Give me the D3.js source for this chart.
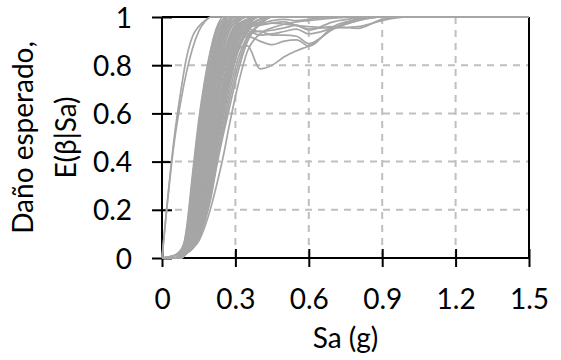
<!DOCTYPE html>
<html>
<head>
<meta charset="utf-8">
<script src="https://cdn.jsdelivr.net/npm/d3@7"></script>
<style>
  html, body { margin: 0; padding: 0; background: #fff; }
  svg { display: block; }
  text { font-family: Lato, "Open Sans", sans-serif; fill: #000; }
</style>
</head>
<body>
<svg id="chart" width="561" height="360"></svg>
<script>
// ---------------- data ----------------
const saGrid = [0, 0.05, 0.075, 0.1, 0.125, 0.15, 0.175, 0.2, 0.225, 0.25, 0.275, 0.3, 0.35, 0.4, 0.45, 0.5, 0.55, 0.6, 0.7, 0.8, 0.9, 1.0, 1.5];

const xTicks = [0, 0.3, 0.6, 0.9, 1.2, 1.5];
const xTickLabels = ["0", "0.3", "0.6", "0.9", "1.2", "1.5"];
const yTicks = [0, 0.2, 0.4, 0.6, 0.8, 1];
const yTickLabels = ["0", "0.2", "0.4", "0.6", "0.8", "1"];
const xGrid = [0.3, 0.6, 0.9, 1.2];
const yGrid = [0.2, 0.4, 0.6, 0.8];

const xTitle = "Sa (g)";
const yTitleLines = ["Daño esperado,", "E(β|Sa)"];

// curves rising early (start at the origin)
const outlierCurves = [
  [0, 0.50, 0.68, 0.83, 0.92, 0.96, 0.985, 1, 1, 1, 1, 1, 1, 1, 1, 1, 1, 1, 1, 1, 1, 1, 1],
  [0, 0.48, 0.64, 0.77, 0.87, 0.94, 0.98, 1, 1, 1, 1, 1, 1, 1, 1, 1, 1, 1, 1, 1, 1, 1, 1]
];

// main band of curves
const bandCurves = [
  [0, 0, 0.01, 0.12, 0.35, 0.57, 0.74, 0.87, 0.96, 1, 1, 1, 1, 1, 1, 1, 1, 1, 1, 1, 1, 1, 1],
  [0, 0, 0.01, 0.11, 0.33, 0.55, 0.72, 0.86, 0.95, 0.99, 1, 1, 1, 1, 1, 1, 1, 1, 1, 1, 1, 1, 1],
  [0, 0, 0.01, 0.10, 0.31, 0.53, 0.71, 0.85, 0.94, 0.99, 1, 1, 1, 1, 1, 1, 1, 1, 1, 1, 1, 1, 1],
  [0, 0.01, 0.03, 0.10, 0.28, 0.50, 0.70, 0.86, 0.95, 0.99, 1, 1, 1, 1, 1, 1, 1, 1, 1, 1, 1, 1, 1],
  [0, 0, 0.02, 0.09, 0.26, 0.48, 0.67, 0.82, 0.93, 0.98, 1, 1, 1, 1, 1, 1, 1, 1, 1, 1, 1, 1, 1],
  [0, 0, 0.01, 0.08, 0.25, 0.46, 0.65, 0.80, 0.91, 0.97, 1, 1, 1, 1, 1, 1, 1, 1, 1, 1, 1, 1, 1],
  [0, 0, 0.01, 0.075, 0.23, 0.44, 0.63, 0.79, 0.90, 0.97, 1, 1, 1, 1, 1, 1, 1, 1, 1, 1, 1, 1, 1],
  [0, 0, 0.01, 0.07, 0.22, 0.43, 0.62, 0.78, 0.90, 0.97, 0.99, 1, 1, 1, 1, 1, 1, 1, 1, 1, 1, 1, 1],
  [0, 0.01, 0.02, 0.07, 0.20, 0.40, 0.59, 0.75, 0.88, 0.96, 0.99, 1, 1, 1, 1, 1, 1, 1, 1, 1, 1, 1, 1],
  [0, 0, 0.01, 0.065, 0.19, 0.38, 0.57, 0.74, 0.87, 0.95, 0.99, 1, 1, 1, 1, 1, 1, 1, 1, 1, 1, 1, 1],
  [0, 0, 0.01, 0.06, 0.18, 0.37, 0.56, 0.73, 0.86, 0.95, 0.99, 1, 1, 1, 1, 1, 1, 1, 1, 1, 1, 1, 1],
  [0, 0, 0.01, 0.055, 0.17, 0.35, 0.545, 0.71, 0.85, 0.94, 0.98, 1, 1, 1, 1, 1, 1, 1, 1, 1, 1, 1, 1],
  [0, 0, 0.01, 0.05, 0.16, 0.34, 0.53, 0.70, 0.84, 0.93, 0.98, 1, 1, 1, 1, 1, 1, 1, 1, 1, 1, 1, 1],
  [0, 0, 0, 0.05, 0.15, 0.31, 0.50, 0.67, 0.82, 0.92, 0.97, 0.99, 1, 1, 1, 1, 1, 1, 1, 1, 1, 1, 1],
  [0, 0, 0, 0.045, 0.14, 0.30, 0.485, 0.655, 0.80, 0.91, 0.965, 0.99, 1, 1, 1, 1, 1, 1, 1, 1, 1, 1, 1],
  [0, 0.01, 0.03, 0.06, 0.13, 0.29, 0.47, 0.64, 0.79, 0.90, 0.96, 0.99, 1, 1, 1, 1, 1, 1, 1, 1, 1, 1, 1],
  [0, 0, 0, 0.04, 0.12, 0.26, 0.44, 0.61, 0.77, 0.88, 0.95, 0.98, 1, 1, 1, 1, 1, 1, 1, 1, 1, 1, 1],
  [0, 0, 0.01, 0.04, 0.115, 0.25, 0.425, 0.595, 0.755, 0.87, 0.945, 0.98, 1, 1, 1, 1, 1, 1, 1, 1, 1, 1, 1],
  [0, 0, 0.01, 0.04, 0.11, 0.24, 0.41, 0.58, 0.74, 0.86, 0.94, 0.98, 1, 1, 1, 1, 1, 1, 1, 1, 1, 1, 1],
  [0, 0, 0, 0.035, 0.095, 0.21, 0.365, 0.535, 0.695, 0.825, 0.91, 0.965, 1, 1, 1, 1, 1, 1, 1, 1, 1, 1, 1],
  [0, 0, 0, 0.03, 0.10, 0.22, 0.38, 0.55, 0.71, 0.84, 0.92, 0.97, 1, 1, 1, 1, 1, 1, 1, 1, 1, 1, 1],
  [0, 0.01, 0.02, 0.04, 0.09, 0.20, 0.35, 0.52, 0.68, 0.81, 0.90, 0.96, 0.99, 1, 1, 1, 1, 1, 1, 1, 1, 1, 1],
  [0, 0, 0, 0.03, 0.08, 0.18, 0.33, 0.49, 0.65, 0.79, 0.89, 0.95, 0.99, 1, 1, 1, 1, 1, 1, 1, 1, 1, 1],
  [0, 0, 0, 0.025, 0.075, 0.17, 0.315, 0.475, 0.635, 0.775, 0.88, 0.945, 0.99, 1, 1, 1, 1, 1, 1, 1, 1, 1, 1],
  [0, 0, 0, 0.02, 0.07, 0.16, 0.30, 0.46, 0.62, 0.76, 0.87, 0.94, 0.99, 1, 1, 1, 1, 1, 1, 1, 1, 1, 1],
  [0, 0, 0.01, 0.02, 0.07, 0.15, 0.28, 0.43, 0.59, 0.73, 0.85, 0.93, 0.98, 1, 1, 1, 1, 1, 1, 1, 1, 1, 1],
  [0, 0, 0, 0.02, 0.065, 0.14, 0.265, 0.415, 0.575, 0.715, 0.835, 0.92, 0.98, 1, 1, 1, 1, 1, 1, 1, 1, 1, 1],
  [0, 0, 0, 0.02, 0.06, 0.13, 0.25, 0.40, 0.56, 0.70, 0.82, 0.91, 0.98, 1, 1, 1, 1, 1, 1, 1, 1, 1, 1],
  [0, 0, 0, 0.02, 0.05, 0.12, 0.23, 0.37, 0.53, 0.67, 0.80, 0.89, 0.97, 1, 1, 1, 1, 1, 1, 1, 1, 1, 1],
  [0, 0, 0, 0.02, 0.05, 0.115, 0.22, 0.36, 0.515, 0.655, 0.785, 0.88, 0.965, 1, 1, 1, 1, 1, 1, 1, 1, 1, 1],
  [0, 0, 0, 0.02, 0.05, 0.11, 0.21, 0.35, 0.50, 0.64, 0.77, 0.87, 0.96, 0.99, 1, 1, 1, 1, 1, 1, 1, 1, 1],
  [0, 0, 0, 0.02, 0.04, 0.10, 0.19, 0.32, 0.47, 0.61, 0.74, 0.85, 0.95, 0.99, 1, 1, 1, 1, 1, 1, 1, 1, 1],
  [0, 0, 0, 0.02, 0.045, 0.095, 0.18, 0.305, 0.455, 0.595, 0.725, 0.835, 0.945, 0.99, 1, 1, 1, 1, 1, 1, 1, 1, 1],
  [0, 0, 0, 0.02, 0.04, 0.09, 0.17, 0.29, 0.44, 0.58, 0.71, 0.82, 0.94, 0.98, 1, 1, 1, 1, 1, 1, 1, 1, 1],
  [0, 0, 0, 0.02, 0.04, 0.08, 0.16, 0.27, 0.41, 0.55, 0.68, 0.79, 0.92, 0.97, 1, 1, 1, 1, 1, 1, 1, 1, 1],
  [0, 0, 0, 0.02, 0.04, 0.085, 0.155, 0.26, 0.40, 0.53, 0.65, 0.76, 0.91, 0.97, 1, 1, 1, 1, 1, 1, 1, 1, 1],
  [0, 0, 0, 0.02, 0.04, 0.08, 0.15, 0.25, 0.39, 0.51, 0.62, 0.73, 0.90, 0.97, 1, 1, 1, 1, 1, 1, 1, 1, 1]
];

// curves that dip after approaching 1
const wavyCurves = [
  [0, 0, 0, 0.02, 0.05, 0.10, 0.19, 0.32, 0.48, 0.63, 0.76, 0.86, 0.88, 0.785, 0.80, 0.835, 0.86, 0.88, 0.95, 0.99, 1, 1, 1],
  [0, 0, 0.01, 0.03, 0.06, 0.11, 0.20, 0.33, 0.48, 0.62, 0.75, 0.86, 0.92, 0.90, 0.885, 0.90, 0.905, 0.88, 0.96, 0.99, 1, 1, 1],
  [0, 0, 0, 0.02, 0.05, 0.10, 0.19, 0.31, 0.46, 0.61, 0.74, 0.85, 0.93, 0.94, 0.925, 0.925, 0.92, 0.89, 0.95, 0.985, 1, 1, 1],
  [0, 0, 0, 0.02, 0.06, 0.13, 0.24, 0.38, 0.53, 0.68, 0.80, 0.89, 0.95, 0.94, 0.945, 0.955, 0.965, 0.946, 0.98, 0.995, 1, 1, 1],
  [0, 0, 0.01, 0.03, 0.07, 0.15, 0.27, 0.42, 0.57, 0.71, 0.83, 0.91, 0.96, 0.965, 0.975, 0.98, 0.965, 0.95, 0.96, 0.953, 0.99, 1, 1],
  [0, 0, 0, 0.02, 0.05, 0.11, 0.21, 0.35, 0.50, 0.65, 0.78, 0.88, 0.94, 0.925, 0.93, 0.94, 0.95, 0.93, 0.955, 0.985, 1, 1, 1],
  [0, 0, 0, 0.02, 0.06, 0.12, 0.22, 0.36, 0.52, 0.67, 0.80, 0.90, 0.97, 0.97, 0.975, 0.97, 0.965, 0.96, 0.955, 0.96, 0.985, 1, 1],
  [0, 0, 0.01, 0.04, 0.10, 0.20, 0.34, 0.50, 0.65, 0.78, 0.88, 0.94, 0.98, 0.975, 0.985, 0.99, 0.985, 0.99, 1, 1, 1, 1, 1],
  [0, 0, 0, 0.02, 0.04, 0.07, 0.13, 0.21, 0.31, 0.42, 0.55, 0.67, 0.86, 0.93, 0.955, 0.97, 0.98, 0.985, 0.995, 1, 1, 1, 1]
];

// ---------------- drawing ----------------
const plotL = 162, plotR = 529, plotT = 17, plotB = 258;
const svg = d3.select("#chart");

const x = d3.scaleLinear().domain([0, 1.5]).range([plotL, plotR]);
const y = d3.scaleLinear().domain([0, 1]).range([plotB, plotT]);

const gridColor = "#bfbfbf";
const dash = "7,6";

// gridlines
const g = svg.append("g");
g.selectAll("line.hg").data(yGrid).join("line").attr("class", "hg")
  .attr("x1", plotL).attr("x2", plotR)
  .attr("y1", d => y(d)).attr("y2", d => y(d))
  .attr("stroke", gridColor).attr("stroke-width", 2).attr("stroke-dasharray", dash);
g.selectAll("line.vg").data(xGrid).join("line").attr("class", "vg")
  .attr("y1", plotB).attr("y2", plotT)
  .attr("x1", d => x(d)).attr("x2", d => x(d))
  .attr("stroke", gridColor).attr("stroke-width", 2).attr("stroke-dasharray", dash);

// frame (top and right)
svg.append("line").attr("x1", plotL).attr("x2", plotR).attr("y1", plotT).attr("y2", plotT)
  .attr("stroke", "#000").attr("stroke-width", 2);
svg.append("line").attr("x1", plotR).attr("x2", plotR).attr("y1", plotT).attr("y2", plotB)
  .attr("stroke", "#000").attr("stroke-width", 2);

// axes
const fontSize = 28;
const xAxis = d3.axisBottom(x).tickValues(xTicks).tickFormat((d, i) => xTickLabels[i]).tickSizeOuter(0);
const yAxis = d3.axisLeft(y).tickValues(yTicks).tickFormat((d, i) => yTickLabels[i]).tickSizeOuter(0);

const gx = svg.append("g").attr("transform", `translate(0,${plotB})`).call(xAxis);
const gy = svg.append("g").attr("transform", `translate(${plotL},0)`).call(yAxis);

[gx, gy].forEach(ax => {
  ax.select(".domain").attr("stroke", "#000").attr("stroke-width", 2);
  ax.selectAll(".tick line").attr("stroke", "#000").attr("stroke-width", 2);
  ax.selectAll(".tick text").attr("font-family", "Lato, 'Open Sans', sans-serif")
    .attr("font-size", fontSize).attr("fill", "#000");
});
gx.select(".domain").attr("d", `M${plotL},0H${plotR}`);
gy.select(".domain").attr("d", `M0,${plotB}V${plotT}`);
gx.selectAll(".tick line").attr("y1", -9).attr("y2", 9);
gx.selectAll(".tick text").attr("y", 51).attr("dy", 0);
gy.selectAll(".tick line").attr("x1", -10).attr("x2", 10);
gy.selectAll(".tick text").attr("x", -30).attr("dy", "0.36em");

// curves
const line = d3.line()
  .x((d, i) => x(saGrid[i]))
  .y(d => y(d))
  .curve(d3.curveMonotoneX);

const allCurves = [...bandCurves, ...wavyCurves, ...outlierCurves];
svg.append("g").selectAll("path").data(allCurves).join("path")
  .attr("d", line)
  .attr("fill", "none")
  .attr("stroke", "#a6a6a6")
  .attr("stroke-width", 1.7);

// titles
svg.append("text")
  .attr("x", (plotL + plotR) / 2).attr("y", 348)
  .attr("text-anchor", "middle").attr("font-size", fontSize)
  .text(xTitle);

const cy = (plotT + plotB) / 2;
[33, 76].forEach((bx, i) => {
  svg.append("text")
    .attr("transform", `translate(${bx},${cy}) rotate(-90)`)
    .attr("text-anchor", "middle").attr("font-size", fontSize)
    .text(yTitleLines[i]);
});
</script>
</body>
</html>
